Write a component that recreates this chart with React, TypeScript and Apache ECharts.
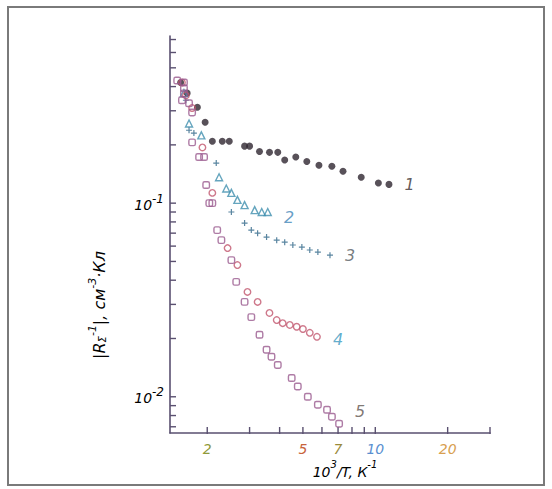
import React, { useEffect, useRef } from 'react';
import * as echarts from 'echarts';

// ---- data (x = 10^3/T, K^-1 ; y = |R^-1|, cm^-3·C) ----
const series1: number[][] = [
  [1.55, 0.42], [1.65, 0.37], [1.82, 0.313], [1.96, 0.262], [2.10, 0.209], [2.31, 0.209],
  [2.47, 0.209], [2.86, 0.197], [3.00, 0.197], [3.30, 0.185], [3.63, 0.183], [3.93, 0.183],
  [4.20, 0.167], [4.67, 0.173], [5.19, 0.164], [5.83, 0.157], [6.60, 0.155], [7.34, 0.146],
  [8.74, 0.136], [10.3, 0.127], [11.4, 0.125],
];
const series2: number[][] = [
  [1.60, 0.37], [1.68, 0.258], [1.89, 0.224], [2.24, 0.136], [2.40, 0.119], [2.52, 0.113],
  [2.67, 0.104], [2.86, 0.0977], [3.15, 0.092], [3.37, 0.090], [3.57, 0.090],
];
const series3: number[][] = [
  [1.63, 0.34], [1.68, 0.238], [1.76, 0.230], [2.18, 0.161], [2.52, 0.090], [2.86, 0.0789],
  [3.05, 0.0726], [3.24, 0.070], [3.53, 0.0668], [3.89, 0.0644], [4.20, 0.0629], [4.54, 0.0608],
  [4.95, 0.0593], [5.34, 0.0573], [5.77, 0.0559], [6.48, 0.0539],
];
const series4: number[][] = [
  [1.57, 0.42], [1.63, 0.36], [1.73, 0.31], [1.91, 0.194], [2.10, 0.113], [2.43, 0.0586],
  [2.67, 0.0479], [2.94, 0.0348], [3.24, 0.0309], [3.63, 0.0271], [3.89, 0.0249], [4.12, 0.0240],
  [4.41, 0.0235], [4.71, 0.0230], [5.00, 0.0224], [5.34, 0.0214], [5.72, 0.0204],
];
const series5: number[][] = [
  [1.50, 0.43], [1.60, 0.42], [1.60, 0.392], [1.60, 0.369], [1.57, 0.34], [1.68, 0.328],
  [1.73, 0.294], [1.73, 0.206], [1.85, 0.173], [1.94, 0.173], [1.98, 0.124], [2.04, 0.100],
  [2.10, 0.100], [2.20, 0.0726], [2.29, 0.0644], [2.52, 0.0508], [2.64, 0.0392], [2.86, 0.0309],
  [3.05, 0.0258], [3.30, 0.0209], [3.53, 0.0175], [3.70, 0.0161], [3.93, 0.0146], [4.49, 0.0125],
  [4.76, 0.0113], [5.24, 0.0100], [5.77, 0.0091], [6.30, 0.00857], [6.60, 0.00789], [7.07, 0.00726],
];
const seriesNames = ['1', '2', '3', '4', '5'];

const xTickValues = [2, 3, 4, 5, 6, 7, 8, 9, 10, 20, 30];
const xLabelValues = [2, 5, 7, 10, 20];
const xLabelTexts = ['2', '5', '7', '10', '20'];
const yTickValues = [
  0.007, 0.008, 0.009, 0.01, 0.02, 0.03, 0.04, 0.05, 0.06, 0.07, 0.08, 0.09,
  0.1, 0.2, 0.3, 0.4, 0.5, 0.6, 0.7,
];
const yLabelValues = [0.1, 0.01];
const yLabelExps = ['-1', '-2'];

const X_MIN = 1.4;
const X_MAX = 30;
const Y_MIN = 0.0065;
const Y_MAX = 0.73;

// ---- styles ----
const markerColors = ['#2e2630', '#3f8fae', '#2f6688', '#c2566e', '#9a5a8e'];
const seriesLabelColors = ['#3a3030', '#3f86b8', '#555a60', '#3a98c0', '#605550'];
const seriesLabelOffsets = [[0, 0], [0, 5], [0, 0], [0, 3], [0, -12]];
const xLabelColors = ['#8f9a3a', '#c8643c', '#9a8a3a', '#5a8fd0', '#d8a050'];
const yLabelColors = ['#4f9a80', '#a09a30'];
const AXIS_COLOR = '#5a5070';
const FONT = 'DejaVu Sans';

const plusPath = 'path://M4,0L6,0L6,4L10,4L10,6L6,6L6,10L4,10L4,6L0,6L0,4L4,4Z';

function withEndLabel(points: number[][], idx: number) {
  return points.map((p, i) => {
    if (i !== points.length - 1) return p;
    return {
      value: p,
      label: {
        show: true,
        formatter: seriesNames[idx],
        position: 'right',
        distance: 12,
        offset: seriesLabelOffsets[idx],
        color: seriesLabelColors[idx],
        fontSize: 16,
        fontStyle: 'italic',
        fontFamily: FONT,
      },
    };
  });
}

export default function App() {
  const ref = useRef<HTMLDivElement>(null);

  useEffect(() => {
    if (!ref.current) return;
    const chart = echarts.init(ref.current, undefined, { renderer: 'svg' });

    const hollow = (c: string) => ({ color: 'rgba(255,255,255,0)', borderColor: c, borderWidth: 1.4 });

    const option: any = {
      animation: false,
      backgroundColor: '#ffffff',
      grid: { left: 170, top: 36, right: 62, bottom: 56, containLabel: false },
      xAxis: {
        type: 'log',
        logBase: 10,
        min: X_MIN,
        max: X_MAX,
        axisLine: { show: true, lineStyle: { color: AXIS_COLOR, width: 1.6 } },
        axisTick: { show: false },
        axisLabel: { show: false },
        splitLine: { show: false },
        minorSplitLine: { show: false },
      },
      yAxis: {
        type: 'log',
        logBase: 10,
        min: Y_MIN,
        max: Y_MAX,
        axisLine: { show: true, lineStyle: { color: AXIS_COLOR, width: 1.6 } },
        axisTick: { show: false },
        axisLabel: { show: false },
        splitLine: { show: false },
      },
      graphic: [
        {
          type: 'rect',
          shape: { x: 8, y: 7, width: 536, height: 478 },
          style: { fill: 'none', stroke: '#7a7a7a', lineWidth: 2 },
          silent: true,
        },
        {
          type: 'text',
          x: 97,
          y: 305,
          rotation: Math.PI / 2,
          style: {
            text: '{n||R}{sub|Σ}{sup|-1}{n||, см}{sup|-3}{n|·Кл}',
            align: 'center',
            verticalAlign: 'middle',
            rich: {
              n: { fontSize: 16, fontStyle: 'italic', fontFamily: FONT, color: '#c08050', lineHeight: 21, verticalAlign: 'bottom' },
              sup: { fontSize: 11, fontStyle: 'italic', fontFamily: FONT, color: '#9a7060', verticalAlign: 'top' },
              sub: { fontSize: 10, fontStyle: 'italic', fontFamily: FONT, color: '#c08050', verticalAlign: 'bottom' },
            },
          },
          silent: true,
        },
        {
          type: 'text',
          x: 345,
          y: 469,
          style: {
            text: '{n|10}{sup|3}{n|/T, К}{sup|-1}',
            align: 'center',
            verticalAlign: 'middle',
            rich: {
              n: { fontSize: 14, fontStyle: 'italic', fontFamily: FONT, color: '#6a98b8', lineHeight: 19, verticalAlign: 'bottom' },
              sup: { fontSize: 10, fontStyle: 'italic', fontFamily: FONT, color: '#7a8aa8', verticalAlign: 'top' },
            },
          },
          silent: true,
        },
      ],
      series: [
        // y-axis ticks
        {
          type: 'custom',
          silent: true,
          data: yTickValues.map((v) => [X_MIN, v]),
          renderItem: (_p: any, api: any) => {
            const pt = api.coord([api.value(0), api.value(1)]);
            return {
              type: 'line',
              shape: { x1: pt[0], y1: pt[1], x2: pt[0] + 6, y2: pt[1] },
              style: { stroke: AXIS_COLOR, lineWidth: 1.4 },
            };
          },
        },
        // x-axis ticks
        {
          type: 'custom',
          silent: true,
          data: xTickValues.map((v) => [v, Y_MIN]),
          renderItem: (_p: any, api: any) => {
            const pt = api.coord([api.value(0), api.value(1)]);
            return {
              type: 'line',
              shape: { x1: pt[0], y1: pt[1] + 1, x2: pt[0], y2: pt[1] - 6 },
              style: { stroke: AXIS_COLOR, lineWidth: 1.4 },
            };
          },
        },
        // x-axis labels
        {
          type: 'custom',
          silent: true,
          data: xLabelValues.map((v) => [v, Y_MIN]),
          renderItem: (p: any, api: any) => {
            const pt = api.coord([api.value(0), api.value(1)]);
            return {
              type: 'text',
              x: pt[0],
              y: pt[1] + 16,
              style: {
                text: xLabelTexts[p.dataIndex],
                align: 'center',
                verticalAlign: 'middle',
                fontSize: 14,
                fontStyle: 'italic',
                fontFamily: FONT,
                fill: xLabelColors[p.dataIndex],
              },
            };
          },
        },
        // y-axis labels
        {
          type: 'custom',
          silent: true,
          data: yLabelValues.map((v) => [X_MIN, v]),
          renderItem: (p: any, api: any) => {
            const pt = api.coord([api.value(0), api.value(1)]);
            const c = yLabelColors[p.dataIndex];
            return {
              type: 'text',
              x: pt[0] - 6,
              y: pt[1] - 1,
              style: {
                text: '{b|10}{s|' + yLabelExps[p.dataIndex] + '}',
                align: 'right',
                verticalAlign: 'middle',
                rich: {
                  b: { fontSize: 14, fontStyle: 'italic', fontFamily: FONT, color: c, lineHeight: 19, verticalAlign: 'bottom' },
                  s: { fontSize: 12, fontStyle: 'italic', fontFamily: FONT, color: c, verticalAlign: 'top' },
                },
              },
            };
          },
        },
        {
          type: 'scatter',
          name: seriesNames[0],
          data: withEndLabel(series1, 0),
          symbol: 'circle',
          symbolSize: 7,
          itemStyle: { color: markerColors[0] },
        },
        {
          type: 'scatter',
          name: seriesNames[1],
          data: withEndLabel(series2, 1),
          symbol: 'triangle',
          symbolSize: 7,
          itemStyle: hollow(markerColors[1]),
        },
        {
          type: 'scatter',
          name: seriesNames[2],
          data: withEndLabel(series3, 2),
          symbol: plusPath,
          symbolSize: 6,
          itemStyle: { color: markerColors[2] },
        },
        {
          type: 'scatter',
          name: seriesNames[3],
          data: withEndLabel(series4, 3),
          symbol: 'circle',
          symbolSize: 6.5,
          itemStyle: hollow(markerColors[3]),
        },
        {
          type: 'scatter',
          name: seriesNames[4],
          data: withEndLabel(series5, 4),
          symbol: 'roundRect',
          symbolSize: 6.5,
          itemStyle: hollow(markerColors[4]),
        },
      ],
    };

    chart.setOption(option);
    return () => chart.dispose();
  }, []);

  return (
    <div
      ref={ref}
      style={{ position: 'absolute', left: 0, top: 0, width: 552, height: 489, background: '#fff' }}
    />
  );
}
